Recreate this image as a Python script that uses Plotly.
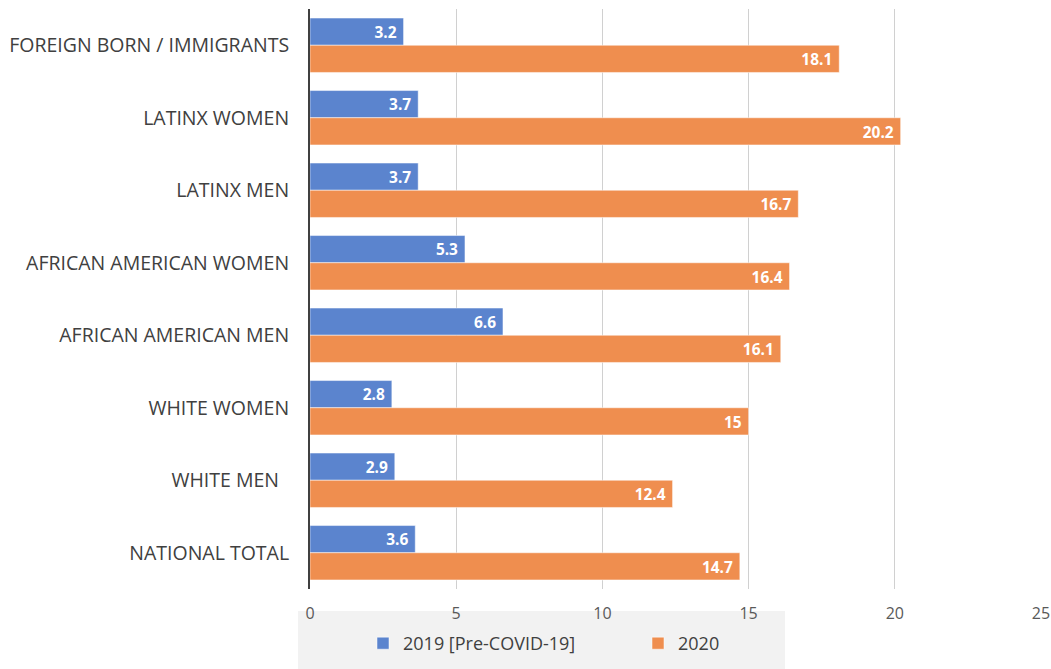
import plotly.graph_objects as go

categories = ["FOREIGN BORN / IMMIGRANTS", "LATINX WOMEN", "LATINX MEN",
              "AFRICAN AMERICAN WOMEN", "AFRICAN AMERICAN MEN", "WHITE WOMEN",
              "WHITE MEN\u00a0\u00a0", "NATIONAL TOTAL"]
vals_2019 = [3.2, 3.7, 3.7, 5.3, 6.6, 2.8, 2.9, 3.6]
vals_2020 = [18.1, 20.2, 16.7, 16.4, 16.1, 15, 12.4, 14.7]
x_ticks = [0, 5, 10, 15, 20, 25]

BLUE = "#5B84CE"
ORANGE = "#EF8E4F"
FONT = "Open Sans"

fig = go.Figure()
fig.add_trace(go.Bar(
    y=categories, x=vals_2019, orientation="h", name="2019 [Pre-COVID-19]",
    marker=dict(color=BLUE, line=dict(color="white", width=0.5)),
    texttemplate="%{x}\u00a0", textposition="inside", insidetextanchor="end",
    textfont=dict(color="white", size=17.5, family=FONT, weight="bold"),
))
fig.add_trace(go.Bar(
    y=categories, x=vals_2020, orientation="h", name="2020",
    marker=dict(color=ORANGE, line=dict(color="white", width=0.5)),
    texttemplate="%{x}\u00a0", textposition="inside", insidetextanchor="end",
    textfont=dict(color="white", size=17.5, family=FONT, weight="bold"),
))

L, R, T, B = 310, 10, 9, 80
W, H = 1051, 669
pw = W - L - R
ph = H - T - B

def px_x(px):
    return (px - L) / pw

def px_y(py):
    return (H - B - py) / ph

fig.add_shape(type="rect", xref="paper", yref="paper",
              x0=px_x(298), x1=px_x(785), y0=px_y(611), y1=px_y(672),
              fillcolor="#F2F2F2", line=dict(width=0), layer="below")

fig.update_layout(
    width=W, height=H,
    margin=dict(l=L, r=R, t=T, b=B, pad=0, autoexpand=False),
    paper_bgcolor="white", plot_bgcolor="white",
    barmode="group", bargap=0.25, bargroupgap=0,
    font=dict(family=FONT, color="#404040"),
    showlegend=True,
    legend=dict(orientation="h", x=px_x(363), y=px_y(625), xanchor="left", yanchor="top",
                font=dict(size=18, color="#404040", family=FONT),
                bgcolor="rgba(0,0,0,0)", entrywidth=230, itemwidth=30,
                traceorder="normal"),
    xaxis=dict(range=[0, 25], tickvals=x_ticks, showgrid=True, gridcolor="#D0D0D0",
               gridwidth=1, zeroline=False, showline=False, ticks="",
               tickfont=dict(size=16, color="#595959", family=FONT),
               ticklabelstandoff=13, automargin=False, fixedrange=True),
    yaxis=dict(autorange="reversed", showline=True, linecolor="#404040", linewidth=2,
               ticks="", showgrid=False, automargin=False,
               tickfont=dict(size=19.5, color="#404040", family=FONT),
               ticklabelstandoff=15, fixedrange=True),
)

fig.write_html("out.html")
